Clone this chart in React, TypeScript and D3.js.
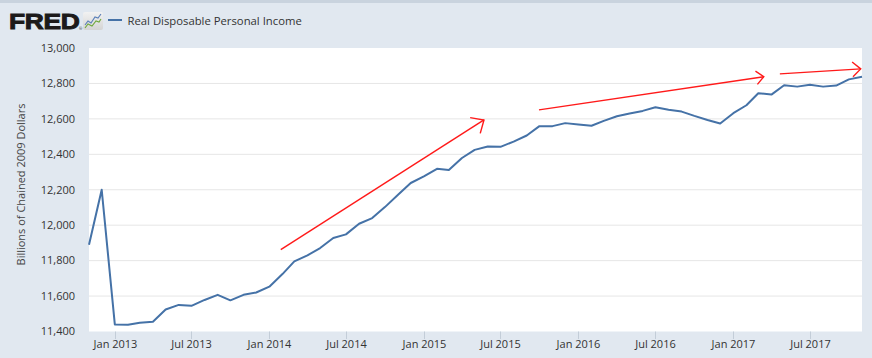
import React from "react";
import * as d3 from "d3";

// ---- Data ----
const startMonth = "2012-11-01";
const endMonth = "2017-11-01";
const values: number[] = [
  11890, 12200,
  11440, 11438, 11450, 11455, 11524, 11550, 11545, 11578, 11607, 11576, 11607, 11620,
  11653, 11724, 11796, 11830, 11871, 11928, 11948, 12008, 12040, 12102, 12172, 12238,
  12275, 12318, 12311, 12379, 12425, 12444, 12442, 12472, 12506, 12559, 12559, 12576,
  12568, 12561, 12589, 12615, 12630, 12645, 12666, 12651, 12641, 12617, 12594, 12574,
  12632, 12677, 12745, 12737, 12790, 12782, 12792, 12782, 12788, 12823, 12838,
];
const yTicks = [11400, 11600, 11800, 12000, 12200, 12400, 12600, 12800, 13000];
const xTickDates = [
  "2013-01-01", "2013-07-01", "2014-01-01", "2014-07-01", "2015-01-01",
  "2015-07-01", "2016-01-01", "2016-07-01", "2017-01-01", "2017-07-01",
];
const seriesName = "Real Disposable Personal Income";
const yTitle = "Billions of Chained 2009 Dollars";
// hand-drawn annotation arrows (date, value) from -> to
const arrowFrom: [string, number][] = [
  ["2014-01-28", 11862],
  ["2015-09-30", 12651],
  ["2017-04-21", 12854],
];
const arrowTo: [string, number][] = [
  ["2015-05-23", 12594],
  ["2017-03-14", 12838],
  ["2017-10-29", 12882],
];
const arrowHead = [14, 10, 11];

const parse = (s: string) => {
  const [y, m, d] = s.split("-").map(Number);
  return new Date(y, m - 1, d);
};

export default function App() {
  const W = 872, H = 358;
  const left = 89, right = 862, top = 48, bottom = 331.5;
  const months = d3.timeMonth.range(parse(startMonth), d3.timeMonth.offset(parse(endMonth), 1));
  const data = months.map((d, i) => ({ d, v: values[i] }));
  const x = d3.scaleTime().domain([parse(startMonth), parse(endMonth)]).range([left, right]);
  const y = d3.scaleLinear().domain([11400, 13000]).range([bottom, top]);
  const line = d3.line<{ d: Date; v: number }>().x((p) => x(p.d)).y((p) => y(p.v));
  const fmt = d3.format(",");
  const tfmt = d3.timeFormat("%b %Y");
  const font = "'Open Sans', 'DejaVu Sans', sans-serif";

  const arrows = arrowFrom.map((f, i) => {
    const x1 = x(parse(f[0])), y1 = y(f[1]);
    const x2 = x(parse(arrowTo[i][0])), y2 = y(arrowTo[i][1]);
    const back = Math.atan2(y1 - y2, x1 - x2);
    const L = arrowHead[i];
    const a = (42 * Math.PI) / 180;
    const h1 = [x2 + L * Math.cos(back + a), y2 + L * Math.sin(back + a)];
    const h2 = [x2 + L * Math.cos(back - a), y2 + L * Math.sin(back - a)];
    return { x1, y1, x2, y2, h1, h2 };
  });

  return (
    <svg width={W} height={H} style={{ position: "absolute", left: 0, top: 0, display: "block" }} fontFamily={font}>
      <defs>
        <linearGradient id="icon" x1="0" y1="0" x2="0" y2="1">
          <stop offset="0" stopColor="#f2f2f2" />
          <stop offset="1" stopColor="#d4d4d4" />
        </linearGradient>
      </defs>
      <rect x={0} y={0} width={W} height={H} fill="#e1e8f0" />
      <rect x={0} y={0} width={W} height={3} fill="#c9d3de" />
      {/* header */}
      <text transform="translate(9,28.5) scale(1.2,1)" fontFamily="'Liberation Sans', Arial, sans-serif" fontWeight={900} fontSize={22} fill="#1c1a1a" stroke="#1c1a1a" strokeWidth={0.9} letterSpacing={-0.3}>FRED</text>
      <text x={79} y={29.5} fontSize={4} fill="#333">®</text>
      <rect x={83} y={12} width={20} height={18} rx={2} fill="url(#icon)" />
      <polyline points="85,25 88,21 91,23 95,17 98,18 101,14" fill="none" stroke="#5a7fb8" strokeWidth={1.1} />
      <polyline points="85,28 88,24 92,26 96,21 99,22 101,19" fill="none" stroke="#6fa83c" strokeWidth={1.1} />
      <line x1={108} x2={122} y1={20} y2={20} stroke="#4572a7" strokeWidth={2} />
      <text x={127.5} y={24.5} fontSize={11.3} fill="#333">{seriesName}</text>

      {/* plot area */}
      <rect x={left} y={top} width={right - left} height={bottom - top} fill="#ffffff" />
      {yTicks.map((t) => (
        <g key={t}>
          {t > 11400 && t < 13000 && (
            <line x1={left} x2={right} y1={y(t)} y2={y(t)} stroke="#e6e6e6" strokeWidth={1} />
          )}
          <text x={75} y={y(t)} dy="0.35em" textAnchor="end" fontSize={11} fill="#333">{fmt(t)}</text>
        </g>
      ))}
      {xTickDates.map((s) => {
        const xx = Math.round(x(parse(s))) + 0.5;
        return (
          <g key={s}>
            <line x1={xx} x2={xx} y1={bottom} y2={339} stroke="#c3cdd8" strokeWidth={1} />
            <text x={xx} y={348} textAnchor="middle" fontSize={11} fill="#333">{tfmt(parse(s))}</text>
          </g>
        );
      })}
      <text transform={`translate(24.5,184.5) rotate(-90)`} textAnchor="middle" fontSize={11} fill="#444">{yTitle}</text>

      <path d={line(data) || ""} fill="none" stroke="#4572a7" strokeWidth={2} strokeLinejoin="round" />

      {arrows.map((a, i) => (
        <g key={i} stroke="#ff1a1a" strokeWidth={1.4} fill="none">
          <line x1={a.x1} y1={a.y1} x2={a.x2} y2={a.y2} />
          <polyline points={`${a.h1[0]},${a.h1[1]} ${a.x2},${a.y2} ${a.h2[0]},${a.h2[1]}`} />
        </g>
      ))}
    </svg>
  );
}
